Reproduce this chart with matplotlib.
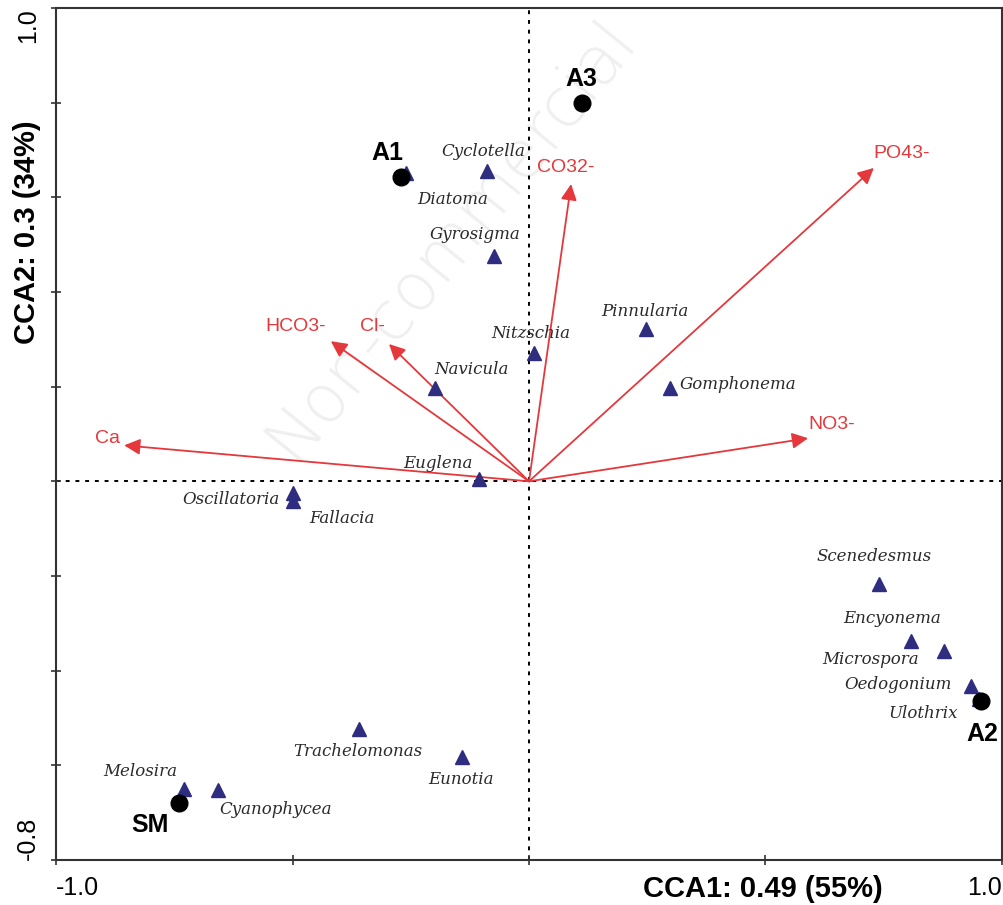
"""
CCA biplot: algae species, sampling sites and environmental vectors
"""

import matplotlib
matplotlib.use("Agg")
import matplotlib.pyplot as plt

# ==========================
# dados
# ==========================
species = ["Cyclotella", "Diatoma", "Gyrosigma", "Nitzschia", "Navicula",
           "Pinnularia", "Gomphonema", "Euglena", "Oscillatoria", "Fallacia",
           "Scenedesmus", "Encyonema", "Microspora", "Oedogonium", "Ulothrix",
           "Trachelomonas", "Eunotia", "Melosira", "Cyanophycea"]
species_x = [-0.089, -0.260, -0.074, 0.011, -0.199, 0.247, 0.298, -0.106, -0.499, -0.499,
             0.740, 0.808, 0.877, 0.934, 0.952, -0.359, -0.142, -0.729, -0.658]
species_y = [0.655, 0.651, 0.476, 0.271, 0.197, 0.321, 0.197, 0.004, -0.025, -0.042,
             -0.216, -0.338, -0.359, -0.433, -0.459, -0.524, -0.583, -0.651, -0.653]

sites = ["A1", "A3", "A2", "SM"]
sites_x = [-0.271, 0.112, 0.956, -0.740]
sites_y = [0.643, 0.799, -0.465, -0.679]

env = ["Ca", "HCO3-", "Cl-", "CO32-", "PO43-", "NO3-"]
env_x = [-0.856, -0.419, -0.296, 0.089, 0.729, 0.590]
env_y = [0.076, 0.296, 0.290, 0.628, 0.662, 0.091]

xticks = [-1.0, -0.5, 0.0, 0.5, 1.0]
xtick_labels = ["-1.0", "", "", "", "1.0"]
yticks = [-0.8, -0.6, -0.4, -0.2, 0.0, 0.2, 0.4, 0.6, 0.8, 1.0]
ytick_labels = ["-0.8", "", "", "", "", "", "", "", "", "1.0"]

# deslocamento dos rótulos (pixels)
species_off = [(-4, 20), (47, -26), (-19, 22), (-3, 20), (37, 19), (-1, 18), (68, 4),
               (-41, 16), (-62, -6), (49, -17), (-5, 27), (-19, 23), (-73, -8),
               (-73, 2), (-56, -15), (-1, -22), (-1, -22), (-44, 18), (58, -19)]
sites_off = [(-13, 24), (-1, 24), (1, -33), (-29, -22)]
env_off = [(-17, 7), (-35, 15), (-17, 18), (-5, 17), (28, 14), (24, 14)]

red = "#e5383c"
navy = "#2e2d80"

# ==========================
# plot
# ==========================
fig = plt.figure(figsize=(10.04, 9.05), dpi=100)
ax = fig.add_axes([0.0558, 0.0497, 0.9422, 0.9415])
ax.set_xlim(-1.0, 1.0)
ax.set_ylim(-0.8, 1.0)

# marca d'água
ax.text(0.418, 0.73, "Non-commercial", transform=ax.transAxes, fontsize=48,
        color="#efefef", rotation=51, ha="center", va="center", zorder=0,
        family="DejaVu Sans", fontweight="light")

ax.axhline(0, color="black", ls=(0, (2, 3)), lw=1.4, zorder=1)
ax.axvline(0, color="black", ls=(0, (2, 3)), lw=1.4, zorder=1)

# vetores ambientais
for name, x, y, off in zip(env, env_x, env_y, env_off):
    ax.annotate("", xy=(x, y), xytext=(0, 0),
                arrowprops=dict(arrowstyle="-|>", color=red, lw=1.3,
                                mutation_scale=24, shrinkA=0, shrinkB=0),
                zorder=2)
    ax.annotate(name, xy=(x, y), xytext=off, textcoords="offset pixels",
                ha="center", va="center", color=red, fontsize=14,
                family="Liberation Sans", zorder=4)

# espécies
ax.plot(species_x, species_y, "^", color=navy, markersize=10, ls="none", zorder=3)
for name, x, y, off in zip(species, species_x, species_y, species_off):
    ax.annotate(name, xy=(x, y), xytext=off, textcoords="offset pixels",
                ha="center", va="center", color="#2a2a2a", fontsize=12,
                family="DejaVu Serif", style="italic", zorder=4)

# locais
ax.plot(sites_x, sites_y, "o", color="black", markersize=12, ls="none", zorder=3)
for name, x, y, off in zip(sites, sites_x, sites_y, sites_off):
    ax.annotate(name, xy=(x, y), xytext=off, textcoords="offset pixels",
                ha="center", va="center", color="black", fontsize=18,
                fontweight="bold", family="Liberation Sans", zorder=4)

# eixos
for s in ax.spines.values():
    s.set_color("#333333")
    s.set_linewidth(1.5)

ax.set_xticks(xticks, xtick_labels, fontsize=18, family="Liberation Sans")
ax.set_yticks(yticks, ytick_labels, fontsize=18, family="Liberation Sans")
ax.tick_params(direction="inout", length=7, width=1.2, color="#333333", pad=8)
xl = ax.get_xticklabels()
xl[0].set_ha("left")
xl[-1].set_ha("right")
for lab in ax.get_yticklabels():
    lab.set_rotation(90)
    lab.set_va("center")
yl = ax.get_yticklabels()
yl[0].set_va("bottom")
yl[-1].set_va("top")

ax.set_xlabel("CCA1: 0.49 (55%)", fontsize=21, fontweight="bold", family="Liberation Sans")
ax.xaxis.set_label_coords(0.747, -0.018)
ax.set_ylabel("CCA2: 0.3 (34%)", fontsize=21, fontweight="bold", family="Liberation Sans")
ax.yaxis.set_label_coords(-0.016, 0.737)

plt.savefig("out.png", dpi=100)
plt.close()
